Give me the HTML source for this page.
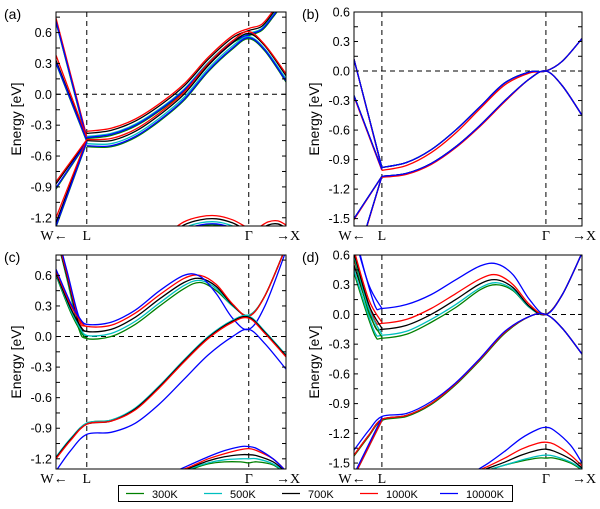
<!DOCTYPE html>
<html><head><meta charset="utf-8"><style>
body{margin:0;background:#fff;}
svg{display:block;font-family:"Liberation Sans",sans-serif;}
</style></head><body>
<svg id="fig" width="600" height="509" viewBox="0 0 600 509" xmlns="http://www.w3.org/2000/svg"></svg>
<script>
const temps=["300K","500K","700K","1000K","10000K"];
const colors=["#008000","#00bfbf","#000000","#ff0000","#0000ff"];
const yTicksA=[0.6,0.3,0.0,-0.3,-0.6,-0.9,-1.2];
const yTicksB=[0.6,0.3,0.0,-0.3,-0.6,-0.9,-1.2,-1.5];
const kLabels=["W\u2190","L","\u0393","\u2192X"];
const kPos=[0,1];

// panel (a)
const aL1x=[-0.19,0];
const aL1=[[0.70,-0.45],[0.71,-0.44],[0.72,-0.42],[0.74,-0.41],[0.71,-0.43]];
const aL2=[[0.30,-0.46],[0.31,-0.45],[0.33,-0.44],[0.38,-0.42],[0.31,-0.45]];
const aL3=[[-0.92,-0.47],[-0.91,-0.46],[-0.87,-0.45],[-0.85,-0.44],[-0.91,-0.46]];
const aL4=[[-1.29,-0.47],[-1.28,-0.46],[-1.25,-0.45],[-1.20,-0.44],[-1.28,-0.46]];
const aUpx=[0,0.15,0.3,0.45,0.6,0.75,0.9,1.0,1.08,1.15,1.23];
const aUp=[[-0.43,-0.40,-0.31,-0.16,0.03,0.29,0.50,0.57,0.62,0.75,0.92],
[-0.41,-0.38,-0.29,-0.14,0.05,0.31,0.52,0.59,0.64,0.77,0.94],
[-0.38,-0.35,-0.26,-0.11,0.08,0.34,0.55,0.62,0.66,0.79,0.96],
[-0.36,-0.33,-0.24,-0.09,0.10,0.36,0.57,0.64,0.68,0.81,0.98],
[-0.42,-0.39,-0.30,-0.15,0.04,0.30,0.51,0.58,0.63,0.76,0.93]];
const aLowx=[0,0.15,0.3,0.45,0.6,0.75,0.9,1.0,1.1,1.23];
const aLow=[[-0.51,-0.51,-0.42,-0.26,-0.06,0.22,0.44,0.54,0.42,0.12],
[-0.48,-0.48,-0.39,-0.23,-0.03,0.25,0.47,0.56,0.44,0.15],
[-0.45,-0.45,-0.36,-0.20,0.00,0.28,0.50,0.59,0.47,0.18],
[-0.44,-0.43,-0.34,-0.18,0.02,0.30,0.52,0.61,0.48,0.20],
[-0.50,-0.50,-0.41,-0.25,-0.05,0.23,0.45,0.55,0.43,0.13]];
const aBotx=[0.5,0.6,0.7,0.8,0.9,1.0,1.05,1.12,1.18,1.23];
const aBot=[[-1.44,-1.33,-1.28,-1.27,-1.31,-1.39,-1.39,-1.33,-1.32,-1.36],
[-1.41,-1.30,-1.25,-1.24,-1.28,-1.36,-1.36,-1.30,-1.29,-1.33],
[-1.38,-1.27,-1.22,-1.21,-1.25,-1.33,-1.33,-1.27,-1.26,-1.30],
[-1.35,-1.24,-1.19,-1.18,-1.22,-1.30,-1.30,-1.24,-1.23,-1.27],
[-1.43,-1.32,-1.27,-1.26,-1.30,-1.38,-1.38,-1.32,-1.31,-1.35]];

// panel (b)
const bLx=[-0.17,0];
const bL1=[[0.12,-0.98],[0.12,-0.98],[0.12,-0.98],[0.12,-0.99],[0.12,-0.98]];
const bL2=[[-0.25,-1.0],[-0.25,-1.0],[-0.25,-1.0],[-0.26,-1.01],[-0.25,-1.0]];
const bL3=[[-1.5,-1.07],[-1.5,-1.07],[-1.5,-1.07],[-1.51,-1.07],[-1.5,-1.07]];
const bL4x=[-0.1,0];
const bL4=[[-1.62,-1.07],[-1.62,-1.07],[-1.62,-1.07],[-1.63,-1.07],[-1.62,-1.07]];
const bUpx=[0,0.15,0.3,0.45,0.6,0.75,0.9,1.0,1.1,1.22];
const bUp=[[-0.98,-0.93,-0.80,-0.60,-0.36,-0.12,-0.01,0,0.10,0.33],
[-0.98,-0.93,-0.80,-0.60,-0.36,-0.12,-0.01,0,0.10,0.33],
[-0.98,-0.93,-0.80,-0.60,-0.36,-0.12,-0.01,0,0.10,0.33],
[-1.01,-0.96,-0.83,-0.63,-0.38,-0.14,-0.02,0,0.10,0.33],
[-0.98,-0.93,-0.80,-0.60,-0.36,-0.12,-0.01,0,0.10,0.33]];
const bLow=[[-1.07,-1.04,-0.94,-0.77,-0.55,-0.30,-0.08,0,-0.15,-0.45],
[-1.07,-1.04,-0.94,-0.77,-0.55,-0.30,-0.08,0,-0.15,-0.45],
[-1.07,-1.04,-0.94,-0.77,-0.55,-0.30,-0.08,0,-0.15,-0.45],
[-1.08,-1.05,-0.95,-0.78,-0.56,-0.31,-0.08,0,-0.15,-0.45],
[-1.07,-1.04,-0.94,-0.77,-0.55,-0.30,-0.08,0,-0.15,-0.45]];

// panel (c)
const cCondx=[-0.19,-0.12,-0.05,0,0.15,0.3,0.45,0.6,0.7,0.8,0.9,1.0,1.1,1.23];
const cCond=[[1.0,0.55,0.08,-0.02,0.0,0.12,0.30,0.47,0.53,0.45,0.30,0.21,0.40,0.88],
[1.0,0.57,0.10,0.01,0.03,0.15,0.33,0.50,0.55,0.47,0.30,0.21,0.40,0.88],
[1.0,0.58,0.13,0.05,0.07,0.19,0.37,0.53,0.57,0.49,0.31,0.20,0.40,0.88],
[1.02,0.60,0.17,0.10,0.11,0.23,0.41,0.57,0.60,0.51,0.32,0.20,0.40,0.88],
[1.05,0.63,0.20,0.12,0.14,0.26,0.45,0.60,0.59,0.42,0.18,0.07,0.30,0.84]];
const cL2x=[-0.19,-0.1,-0.03,0];
const cL2=[[0.60,0.24,0.03,-0.02],[0.61,0.26,0.05,0.01],[0.62,0.28,0.08,0.05],[0.64,0.31,0.13,0.10],[0.66,0.33,0.15,0.12]];
const cValx=[-0.19,-0.1,0,0.15,0.3,0.45,0.6,0.75,0.9,1.0,1.1,1.23];
const cVal=[[-1.19,-1.01,-0.85,-0.82,-0.71,-0.49,-0.24,-0.01,0.15,0.19,0.04,-0.19],
[-1.18,-1.00,-0.85,-0.82,-0.70,-0.48,-0.23,0.0,0.16,0.20,0.05,-0.18],
[-1.19,-1.01,-0.86,-0.83,-0.71,-0.49,-0.24,-0.01,0.15,0.19,0.04,-0.19],
[-1.20,-1.02,-0.86,-0.83,-0.72,-0.50,-0.25,-0.02,0.14,0.18,0.03,-0.20],
[-1.32,-1.12,-0.96,-0.94,-0.85,-0.66,-0.42,-0.18,0.00,0.07,-0.07,-0.32]];
const cBotx=[0.55,0.65,0.75,0.85,0.95,1.0,1.05,1.15,1.23];
const cBot=[[-1.36,-1.30,-1.25,-1.23,-1.23,-1.24,-1.23,-1.26,-1.35],
[-1.35,-1.29,-1.24,-1.21,-1.20,-1.20,-1.20,-1.25,-1.34],
[-1.34,-1.28,-1.22,-1.18,-1.16,-1.16,-1.17,-1.23,-1.33],
[-1.33,-1.27,-1.20,-1.15,-1.11,-1.10,-1.12,-1.20,-1.32],
[-1.32,-1.25,-1.18,-1.12,-1.08,-1.08,-1.10,-1.20,-1.32]];

// panel (d)
const dCondx=[-0.17,-0.1,-0.04,0,0.15,0.3,0.45,0.6,0.7,0.8,0.9,1.0,1.1,1.22];
const dCond=[[0.42,0.05,-0.22,-0.24,-0.20,-0.08,0.07,0.25,0.30,0.24,0.07,0,0.2,0.62],
[0.45,0.08,-0.19,-0.21,-0.17,-0.05,0.10,0.27,0.32,0.25,0.07,0,0.2,0.62],
[0.50,0.14,-0.13,-0.15,-0.11,0.00,0.15,0.31,0.35,0.27,0.08,0,0.2,0.62],
[0.55,0.20,-0.07,-0.09,-0.05,0.06,0.21,0.36,0.40,0.30,0.10,0,0.2,0.62],
[0.85,0.40,0.08,0.06,0.10,0.20,0.35,0.49,0.51,0.40,0.15,0,0.2,0.62]];
const dL2x=[-0.17,-0.08,0];
const dL2=[[0.58,0.02,-0.23],[0.60,0.06,-0.20],[0.62,0.10,-0.14],[0.65,0.15,-0.08],[0.80,0.30,0.06]];
const dValx=[-0.17,-0.08,0,0.15,0.3,0.45,0.6,0.75,0.9,1.0,1.1,1.22];
const dVal=[[-1.43,-1.23,-1.07,-1.03,-0.91,-0.71,-0.46,-0.19,-0.02,0,-0.14,-0.40],
[-1.42,-1.22,-1.06,-1.02,-0.90,-0.70,-0.45,-0.18,-0.02,0,-0.14,-0.40],
[-1.42,-1.22,-1.06,-1.02,-0.90,-0.70,-0.45,-0.18,-0.02,0,-0.14,-0.40],
[-1.42,-1.22,-1.06,-1.02,-0.90,-0.70,-0.45,-0.18,-0.02,0,-0.14,-0.40],
[-1.37,-1.17,-1.03,-1.00,-0.88,-0.69,-0.44,-0.17,-0.02,0,-0.14,-0.40]];
const dL3x=[-0.16,0];
const dL3=[[-1.6,-1.07],[-1.6,-1.07],[-1.6,-1.07],[-1.6,-1.07],[-1.58,-1.04]];
const dBotx=[0.55,0.65,0.75,0.85,0.95,1.0,1.05,1.15,1.22];
const dBot=[[-1.62,-1.57,-1.52,-1.48,-1.45,-1.45,-1.45,-1.50,-1.57],
[-1.62,-1.57,-1.52,-1.47,-1.43,-1.42,-1.43,-1.49,-1.56],
[-1.61,-1.55,-1.49,-1.42,-1.37,-1.36,-1.38,-1.46,-1.55],
[-1.60,-1.53,-1.45,-1.36,-1.30,-1.29,-1.31,-1.42,-1.53],
[-1.60,-1.50,-1.38,-1.25,-1.16,-1.14,-1.17,-1.32,-1.50]];

const panels=[
 {id:"a",x0:56,x1:286,y0:12,y1:226,xmin:-0.19,xmax:1.23,ymin:-1.28,ymax:0.8,ticks:yTicksA,
  bands:[[aL1x,aL1],[aL1x,aL2],[aL1x,aL3],[aL1x,aL4],[aUpx,aUp],[aLowx,aLow],[aBotx,aBot]]},
 {id:"b",x0:354,x1:582,y0:12,y1:226,xmin:-0.17,xmax:1.22,ymin:-1.575,ymax:0.6,ticks:yTicksB,
  bands:[[bLx,bL1],[bLx,bL2],[bLx,bL3],[bL4x,bL4],[bUpx,bUp],[bUpx,bLow]]},
 {id:"c",x0:56,x1:286,y0:255,y1:469,xmin:-0.19,xmax:1.23,ymin:-1.3,ymax:0.8,ticks:yTicksA,
  bands:[[cCondx,cCond],[cL2x,cL2],[cValx,cVal],[cBotx,cBot]]},
 {id:"d",x0:354,x1:582,y0:255,y1:469,xmin:-0.17,xmax:1.22,ymin:-1.56,ymax:0.6,ticks:yTicksB,
  bands:[[dCondx,dCond],[dL2x,dL2],[dValx,dVal],[dL3x,dL3],[dBotx,dBot]]}
];
const NS="http://www.w3.org/2000/svg";
const svg=document.getElementById("fig");
function mk(tag,attrs,parent){const e=document.createElementNS(NS,tag);for(const k in attrs)e.setAttribute(k,attrs[k]);(parent||svg).appendChild(e);return e;}
function pathFor(pts){
 if(pts.length===2)return `M${pts[0][0]},${pts[0][1]}L${pts[1][0]},${pts[1][1]}`;
 let d=`M${pts[0][0]},${pts[0][1]}`;
 for(let i=0;i<pts.length-1;i++){
  const p0=pts[Math.max(i-1,0)],p1=pts[i],p2=pts[i+1],p3=pts[Math.min(i+2,pts.length-1)];
  const c1=[p1[0]+(p2[0]-p0[0])/6,p1[1]+(p2[1]-p0[1])/6];
  const c2=[p2[0]-(p3[0]-p1[0])/6,p2[1]-(p3[1]-p1[1])/6];
  d+=`C${c1[0].toFixed(2)},${c1[1].toFixed(2)} ${c2[0].toFixed(2)},${c2[1].toFixed(2)} ${p2[0].toFixed(2)},${p2[1].toFixed(2)}`;
 }
 return d;
}
const defs=mk("defs",{});
panels.forEach(p=>{
 const sx=v=>p.x0+(v-p.xmin)/(p.xmax-p.xmin)*(p.x1-p.x0);
 const sy=v=>p.y1-(v-p.ymin)/(p.ymax-p.ymin)*(p.y1-p.y0);
 const cp=mk("clipPath",{id:"clip"+p.id},defs);
 mk("rect",{x:p.x0,y:p.y0,width:p.x1-p.x0,height:p.y1-p.y0},cp);
 const g=mk("g",{});
 
 
 const plot=mk("g",{"clip-path":`url(#clip${p.id})`},g);
 kPos.forEach(k=>{const l=mk("line",{x1:sx(k),x2:sx(k),y1:p.y0,y2:p.y1,stroke:"#000","stroke-width":1,"stroke-dasharray":"5,4"},plot);
  });
 const fl=mk("line",{x1:p.x0,x2:p.x1,y1:sy(0),y2:sy(0),stroke:"#000","stroke-width":1,"stroke-dasharray":"5,4"},plot);
 
 
 p.bands.forEach((b,bi)=>{
  const xs=b[0];
  b[1].forEach((ys,ti)=>{
   const pts=xs.map((x,i)=>[sx(x),sy(ys[i])]);
   const el=mk("path",{d:pathFor(pts),fill:"none",stroke:colors[ti],"stroke-width":1.3},plot);
   
   
  });
 });
 const fr=mk("rect",{x:p.x0,y:p.y0,width:p.x1-p.x0,height:p.y1-p.y0,fill:"none",stroke:"#000","stroke-width":1},g);
 
 
 for(let v=Math.ceil(p.ymin/0.15)*0.15;v<=p.ymax+1e-6;v+=0.15){
  const y=sy(v);
  mk("line",{x1:p.x0,x2:p.x0+4,y1:y,y2:y,stroke:"#000","stroke-width":1},g);
  mk("line",{x1:p.x1,x2:p.x1-4,y1:y,y2:y,stroke:"#000","stroke-width":1},g);
 }
 p.ticks.forEach(v=>{
  const t=mk("text",{x:p.x0-4,y:sy(v)+4.5,"text-anchor":"end","font-size":12.5,fill:"#000"},g);
  t.textContent=v.toFixed(1);
  
  
 });
 const yl=mk("text",{x:0,y:0,transform:`translate(${p.x0-35},${(p.y0+p.y1)/2}) rotate(-90)`,"text-anchor":"middle","font-size":14,fill:"#000"},g);
 yl.textContent="Energy [eV]";
 
 
 const pl=mk("text",{x:p.x0-52,y:p.y0+7,"font-size":14,fill:"#000"},g);
 pl.textContent="("+p.id+")";
 
 
 const kx=[p.x0,sx(0),sx(1),p.x1];
 const off=[-2,0,0,2];
 kLabels.forEach((s,i)=>{
  const t=mk("text",{x:kx[i]+off[i],y:p.y1+14,"text-anchor":"middle","font-size":14,fill:"#000","font-family":"Liberation Serif, serif"},g);
  t.textContent=s;
  
  
 });
});
const lg=mk("g",{});


mk("rect",{x:118.5,y:485.5,width:394,height:16,fill:"#fff",stroke:"#000","stroke-width":1},lg);
const lx=[126,204,282,360,440];
temps.forEach((t,i)=>{
 const l=mk("line",{x1:lx[i],x2:lx[i]+18,y1:493.5,y2:493.5,stroke:colors[i],"stroke-width":1.3},lg);
 
 
 const tx=mk("text",{x:lx[i]+26,y:498,"font-size":11,fill:"#000"},lg);
 tx.textContent=t;
 
 
});
</script>
</body></html>
